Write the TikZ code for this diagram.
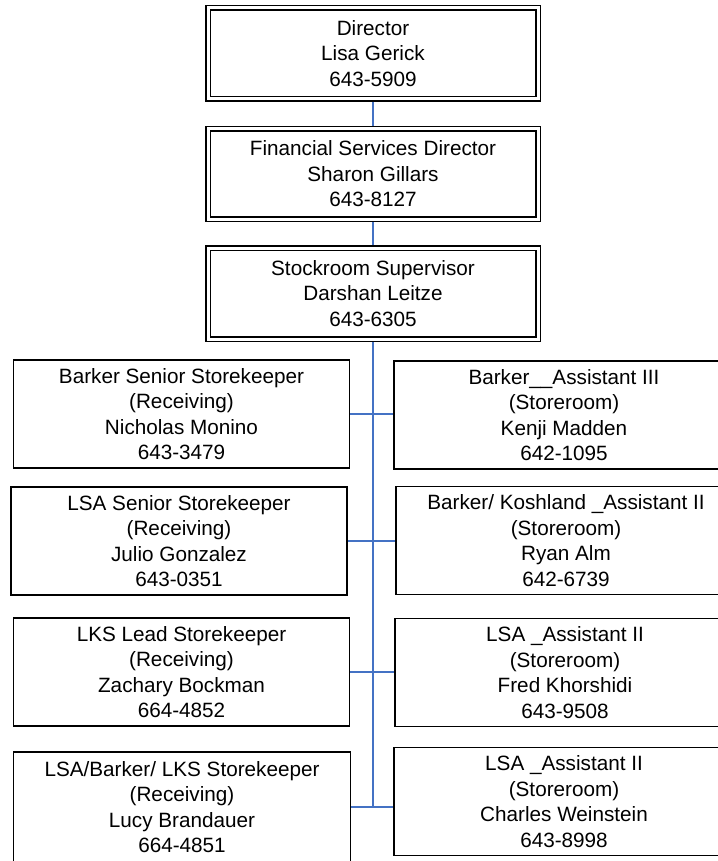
\documentclass[tikz,border=0pt]{standalone}
\usepackage{fontspec}
\setmainfont{Liberation Sans}
\definecolor{linkblue}{RGB}{68,114,196}

\begin{document}
\begin{tikzpicture}[x=1pt, y=-1pt,
  chief/.style={draw, double, double distance=3pt, line width=1.4pt, outer sep=2.9pt,
    minimum width=330pt, inner sep=0pt, align=center, font=\fontsize{20.7pt}{25.5pt}\selectfont},
  staff/.style={draw, line width=1.6pt, minimum height=108pt, inner sep=0pt,
    align=center, font=\fontsize{20.7pt}{25.5pt}\selectfont},
  link/.style={linkblue, line width=1.4pt}]
\useasboundingbox (0,0) rectangle (717,861);

% The three boxes at the head of the chart
\node [chief, minimum height=91pt] (dir) at (373,53.5) {Director\\Lisa Gerick\\643-5909};
\node [chief, minimum height=90pt] (fin) at (373,174) {Financial Services Director\\Sharon Gillars\\643-8127};
\node [chief, minimum height=91pt] (sup) at (373,293.5) {Stockroom Supervisor\\Darshan Leitze\\643-6305};

% Receiving staff on the left
\node [staff, minimum width=336pt] (bsk) at (181.5,414) {Barker Senior Storekeeper\\(Receiving)\\Nicholas Monino\\643-3479};
\node [staff, minimum width=336pt] (lss) at (179,541) {LSA Senior Storekeeper\\(Receiving)\\Julio Gonzalez\\643-0351};
\node [staff, minimum width=336pt] (lks) at (181.5,672) {LKS Lead Storekeeper\\(Receiving)\\Zachary Bockman\\664-4852};
\node [staff, minimum width=337pt, minimum height=110pt] (lbk) at (182,807) {LSA/Barker/ LKS Storekeeper\\(Receiving)\\Lucy Brandauer\\664-4851};

% Storeroom staff on the right
\node [staff, minimum width=340pt] (bas) at (564,415) {Barker\_\_Assistant III\\(Storeroom)\\Kenji Madden\\642-1095};
\node [staff, minimum width=340pt] (bka) at (566,540.5) {Barker/ Koshland \_Assistant II\\(Storeroom)\\Ryan Alm\\642-6739};
\node [staff, minimum width=340pt] (lfk) at (565,672.5) {LSA \_Assistant II\\(Storeroom)\\Fred Khorshidi\\643-9508};
\node [staff, minimum width=340pt] (lcw) at (564,801.5) {LSA \_Assistant II\\(Storeroom)\\Charles Weinstein\\643-8998};

% Connectors
\draw [link] (dir.south) -- (fin.north);
\draw [link] (fin.south) -- (sup.north);
\draw [link] (sup.south) -- (sup.south |- lbk.east);
\foreach \l/\r in {bsk/bas, lss/bka, lks/lfk, lbk/lcw} {
  \draw [link] (\l.east) -- (\l.east -| \r.west);
}
\end{tikzpicture}
\end{document}
